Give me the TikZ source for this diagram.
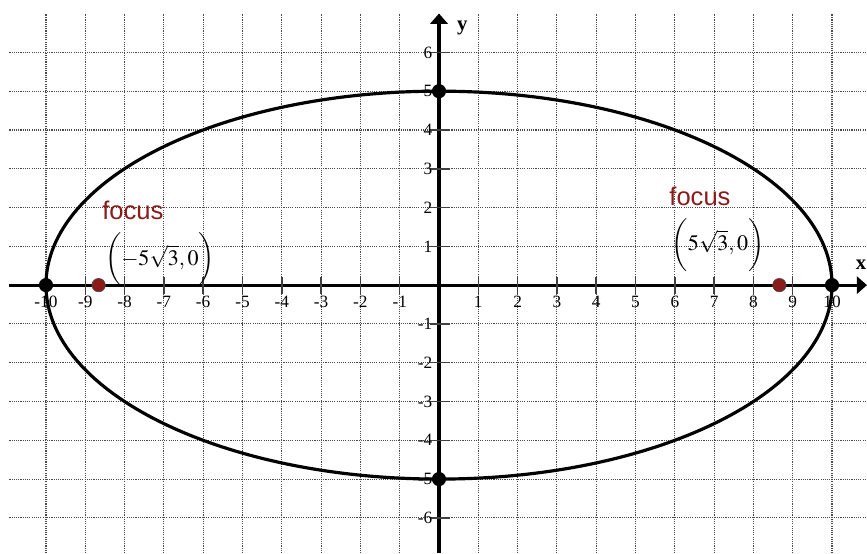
\documentclass[tikz,border=0pt]{standalone}
\usepackage{mathptmx}
\usepackage{fontspec}
\setmainfont{Liberation Serif}
\newfontfamily\arialfont{Liberation Sans}
\usetikzlibrary{arrows.meta}
\definecolor{brennpunkt}{HTML}{8B1A1A}
\definecolor{gitter}{HTML}{4A4A4A}

\begin{document}
\begin{tikzpicture}[x=1cm, y=0.987cm,
    gitterlinie/.style={gitter, line width=0.8pt, dash pattern=on 0.8pt off 0.8pt},
    achse/.style={line width=2.2pt, -{Triangle[length=2.6mm, width=4.4mm]}},
    strich/.style={line width=1.1pt, black!75},
    punkt/.style={circle, fill=black, inner sep=0pt, minimum size=3.6mm},
    fpunkt/.style={circle, fill=brennpunkt, draw=black!70, line width=0.5pt,
                   inner sep=0pt, minimum size=3.4mm},
    zahl/.style={font=\fontsize{12.5}{12.5}\selectfont, inner sep=1pt},
    fokus/.style={font=\arialfont\fontsize{18.5}{18.5}\selectfont, text=brennpunkt,
                  inner sep=0pt},
    koord/.style={font=\fontsize{16}{16}\selectfont, inner sep=0pt}]
  \useasboundingbox (-11.17,-6.91) rectangle (10.89,7.35);

  % Gitter
  \foreach \x in {-10,...,10}
    \draw[gitterlinie] (\x,-6.91) -- (\x,7);
  \foreach \y in {-6,...,6}
    \draw[gitterlinie] (-10.93,\y) -- (10.89,\y);

  % Achsen
  \coordinate (xl) at (-10.93,0);
  \coordinate (xr) at (10.89,0);
  \coordinate (yu) at (0,-6.91);
  \coordinate (yo) at (0,7.0);
  \draw[achse] (xl) -- (xr);
  \draw[achse] (yu) -- (yo);
  \node[font=\bfseries\fontsize{15}{15}\selectfont] (xlab) at (10.74,0.52) {x};
  \node[font=\bfseries\fontsize{15}{15}\selectfont] (ylab) at (0.59,6.62) {y};

  % Skalierung
  \foreach \x in {-10,...,10} {
    \ifnum\x=0\else
      \draw[strich] (\x,-0.22) -- (\x,0.22);
      \node[zahl] (tx\x) at (\x,-0.43) {\x};
    \fi
  }
  \foreach \y in {-6,...,6} {
    \ifnum\y=0\else
      \draw[strich] (-0.23,\y) -- (0.28,\y);
      \node[zahl, anchor=east] (ty\y) at (-0.13,\y) {\y};
    \fi
  }

  % Ellipse
  \draw[line width=2.3pt] (0,0) ellipse [x radius=10, y radius=5];

  % Scheitel und Brennpunkte
  \foreach \p/\pos in {S1/{(10,0)}, S2/{(-10,0)}, S3/{(0,5)}, S4/{(0,-5)}}
    \node[punkt] (\p) at \pos {};
  \node[fpunkt] (F1) at ({-5*sqrt(3)},0) {};
  \node[fpunkt] (F2) at ({5*sqrt(3)},0) {};

  % Beschriftung
  \node[fokus] (f1lab) at (-7.79,1.92) {focus};
  \node[koord] (f1koord) at (-7.10,0.66) {$\bigg({-}5\sqrt{3},0\bigg)$};
  \node[fokus] (f2lab) at (6.64,2.28) {focus};
  \node[koord] (f2koord) at (7.10,1.04) {$\bigg(5\sqrt{3},0\bigg)$};
\end{tikzpicture}
\end{document}
